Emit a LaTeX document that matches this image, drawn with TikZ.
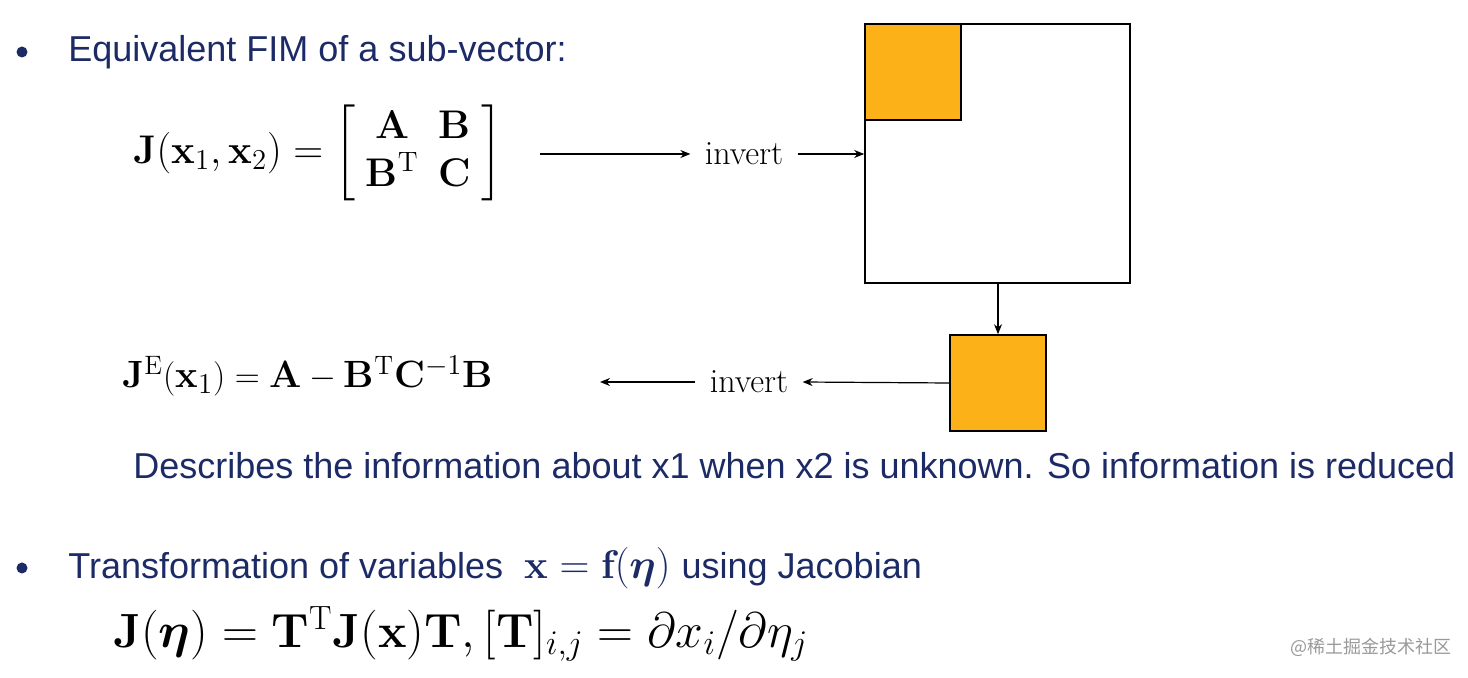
\documentclass[tikz,border=0pt]{standalone}
\usepackage{amsmath,amssymb,bm}
\usepackage{fontspec}
\setmainfont{Latin Modern Roman}
\newfontfamily\sansf{Liberation Sans}
\newfontfamily\cjk{Noto Sans CJK SC}
\usetikzlibrary{arrows.meta}
\definecolor{navy}{RGB}{28,42,102}
\definecolor{gold}{RGB}{253,177,25}
\begin{document}
\begin{tikzpicture}[x=0.5pt,y=-0.5pt,
  arr/.style={-{Stealth[length=5pt,width=4pt]},line width=0.6pt},
  txt/.style={font=\sansf\fontsize{18}{21}\selectfont,text=navy,inner sep=0,anchor=west},
  bul/.style={circle,fill=navy,inner sep=0,minimum size=5.5pt},
  inv/.style={font=\fontsize{17}{20}\selectfont,inner sep=7pt},
  box/.style={draw,line width=0.8pt}]
\useasboundingbox (0,0) rectangle (1468,678);
\node[bul] (b1) at (22,52) {};
\node[txt] (t1) at (68,52) {Equivalent FIM of a sub-vector:};
\node[inner sep=0,anchor=west] (eq1) at (133,153) {\fontsize{20}{24}\selectfont$\mathbf{J}(\mathbf{x}_1,\mathbf{x}_2)=\left[\begin{array}{cc}\mathbf{A}&\mathbf{B}\\ \mathbf{B}^{\mathrm{T}}&\mathbf{C}\end{array}\right]$};
\coordinate (a1s) at (540,154);
\node[inv] (inv1) at (744,154) {invert};
\node[box,minimum width=132.5pt,minimum height=129.5pt,inner sep=0] (big) at (997.5,153.5) {};
\node[box,fill=gold,minimum width=48pt,minimum height=48pt,inner sep=0,anchor=north west] (o1) at (big.north west) {};
\node[box,fill=gold,minimum width=48pt,minimum height=48pt,inner sep=0] (o2) at (998,383) {};
\draw[arr] (a1s) -- (inv1.west);
\draw[arr] (inv1.east) -- (big.west |- inv1);
\draw[arr] (big.south -| o2) -- (o2.north);
\node[inv] (inv2) at (749,382) {invert};
\coordinate (a2e) at (600,382);
\draw[arr] (o2.west) -- (inv2.east);
\draw[arr] (inv2.west) -- (a2e);
\node[inner sep=0,anchor=west] (eq2) at (122,376) {\fontsize{19}{23}\selectfont$\mathbf{J}^{\mathrm{E}}(\mathbf{x}_1)=\mathbf{A}-\mathbf{B}^{\mathrm{T}}\mathbf{C}^{-1}\mathbf{B}$};
\node[txt] (t2) at (133,466) {Describes the information about x1 when x2 is unknown. So information is reduced};
\node[bul] (b2) at (22,568) {};
\node[txt] (t3) at (68,568) {Transformation of variables \fontsize{20}{22}\selectfont$\ \mathbf{x}=\mathbf{f}(\bm{\eta})$\ \fontsize{18}{21}\selectfont using Jacobian};
\node[inner sep=0,anchor=west] (eq3) at (113,634) {\fontsize{24}{28}\selectfont$\mathbf{J}(\bm{\eta})=\mathbf{T}^{\mathrm{T}}\mathbf{J}(\mathbf{x})\mathbf{T},[\mathbf{T}]_{i,j}=\partial x_i/\partial\eta_j$};
\node[inner sep=0,anchor=west,text=black!40,font=\cjk\fontsize{9}{11}\selectfont] (wm) at (1290,647) {@稀土掘金技术社区};
\end{tikzpicture}
\end{document}
